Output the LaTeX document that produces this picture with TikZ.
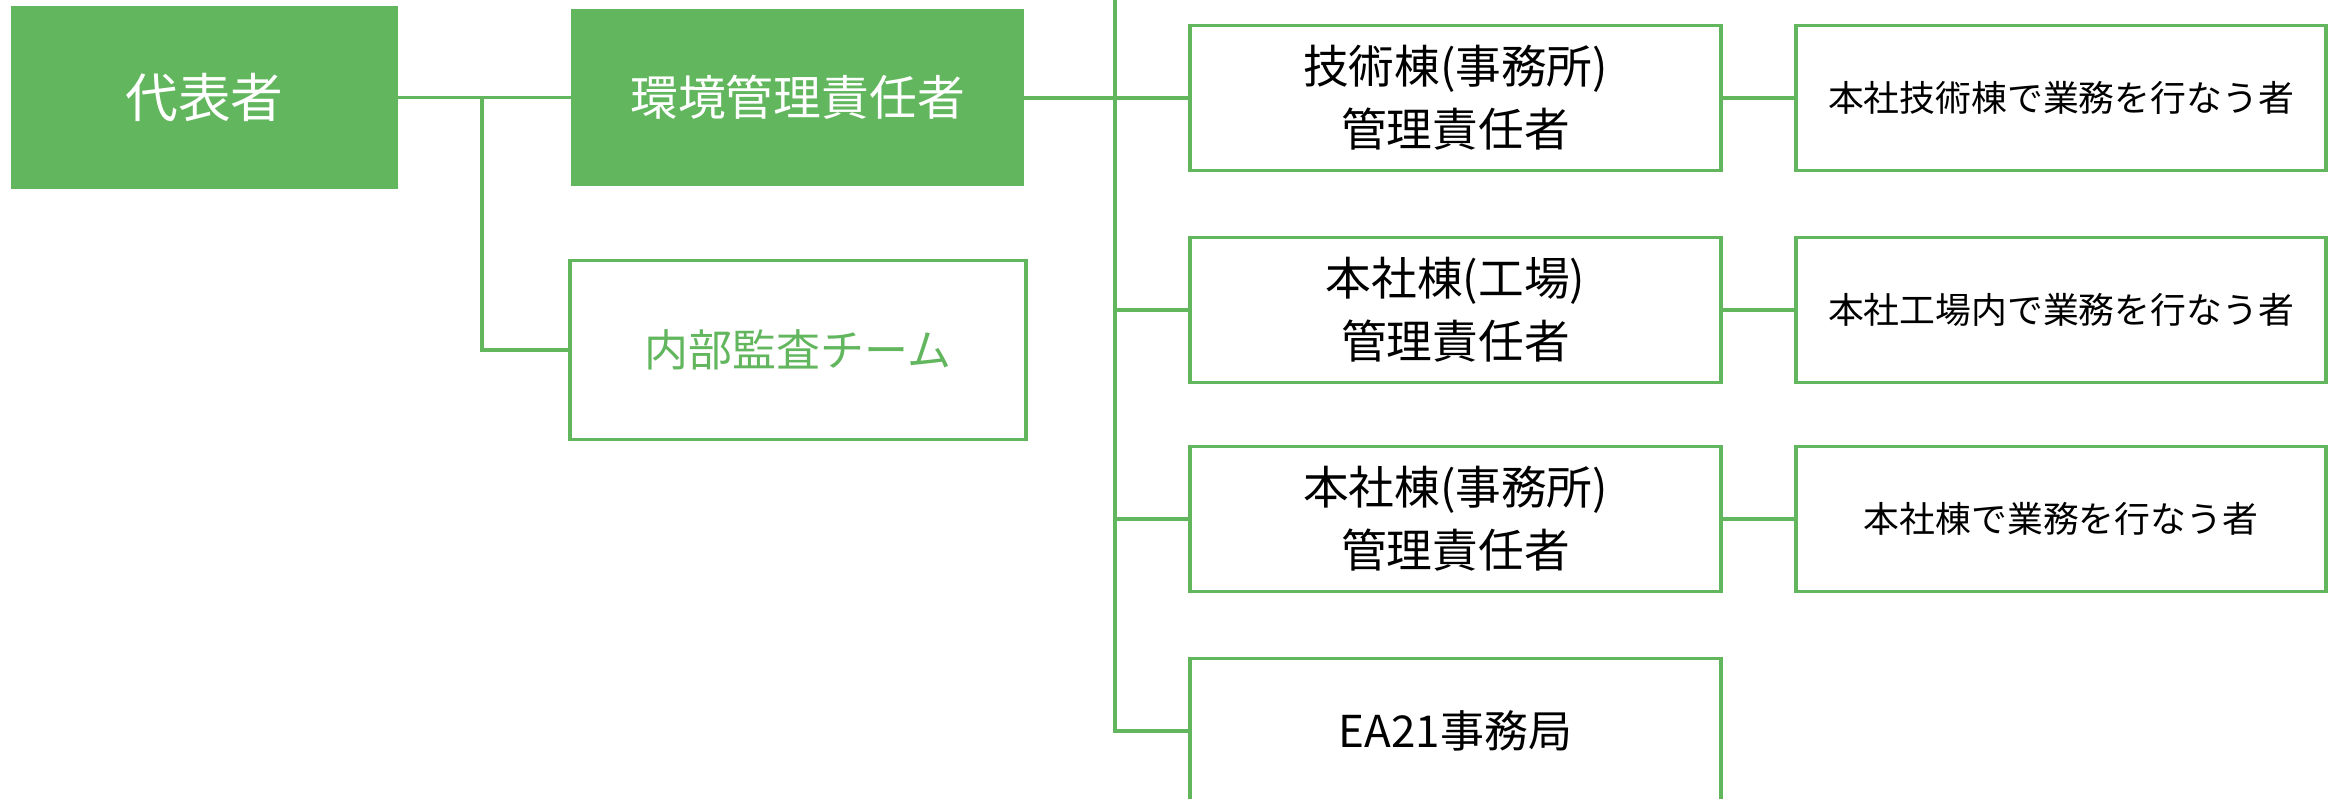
\documentclass[tikz,border=0pt]{standalone}
\usepackage{fontspec}
\setmainfont{Noto Sans CJK JP}
\usepackage{xcolor}
\usepackage{tikz}
\definecolor{orgGreen}{HTML}{62B65E}

\begin{document}
\begin{tikzpicture}[
            x=0.1mm, y=-0.1mm,
            solidbox/.style={rectangle, fill=orgGreen, draw=orgGreen, text=white, inner sep=0pt, outer sep=0pt, align=center},
            linebox/.style={rectangle, draw=orgGreen, line width=1.1pt, fill=white, inner sep=0pt, outer sep=0pt, align=center, minimum width=53.1mm, minimum height=14.5mm},
            link/.style={draw=orgGreen, line width=1pt}
        ]
            \useasboundingbox (0,0) rectangle (2341,799);
            \clip (0,0) rectangle (2341,799);

            % --- LEFT SIDE: TOP MANAGEMENT ---
            \node[solidbox, minimum width=38.5mm, minimum height=18.1mm, font=\fontsize{15}{18}\selectfont] (rep) at (204.5, 97.5) {代表者};
            \node[solidbox, minimum width=45.1mm, minimum height=17.5mm, font=\fontsize{13.6}{16}\selectfont] (envmgr) at (797.5, 97.5) {環境管理責任者};
            \node[linebox, minimum width=45.6mm, minimum height=17.9mm, text=orgGreen, font=\fontsize{12.5}{15}\selectfont] (audit) at (798, 350) {内部監査チーム};

            \draw[link] (rep.east) -- (envmgr.west);
            \coordinate (split) at (482, 97.5);
            \draw[link] (split) |- (audit.west);

            % --- MIDDLE COLUMN: SITE MANAGERS ---
            \node[linebox, font=\fontsize{13}{18}\selectfont] (tech) at (1455.5, 98) {技術棟(事務所)\\管理責任者};
            \node[linebox, font=\fontsize{13}{18}\selectfont] (factory) at (1455.5, 310) {本社棟(工場)\\管理責任者};
            \node[linebox, font=\fontsize{13}{18}\selectfont] (office) at (1455.5, 519) {本社棟(事務所)\\管理責任者};
            \node[linebox, font=\fontsize{12.5}{15}\selectfont] (ea21) at (1455.5, 731) {EA21事務局};

            % Trunk line from the top edge
            \coordinate (trunktop) at (1115, 0);
            \coordinate (trunkbot) at (1115, 731);
            \draw[link] (trunktop) -- (trunkbot) -- (ea21.west);
            \draw[link] (envmgr.east |- tech.west) -- (tech.west);
            \draw[link] (trunktop |- factory.west) -- (factory.west);
            \draw[link] (trunktop |- office.west) -- (office.west);

            % --- RIGHT COLUMN: STAFF ---
            \node[linebox, minimum width=53mm, font=\fontsize{10.2}{13}\selectfont] (techstaff) at (2061, 98) {本社技術棟で業務を行なう者};
            \node[linebox, minimum width=53mm, font=\fontsize{10.2}{13}\selectfont] (factorystaff) at (2061, 310) {本社工場内で業務を行なう者};
            \node[linebox, minimum width=53mm, font=\fontsize{10.2}{13}\selectfont] (officestaff) at (2061, 519) {本社棟で業務を行なう者};

            \draw[link] (tech.east) -- (techstaff.west);
            \draw[link] (factory.east) -- (factorystaff.west);
            \draw[link] (office.east) -- (officestaff.west);

        \end{tikzpicture}
\end{document}
